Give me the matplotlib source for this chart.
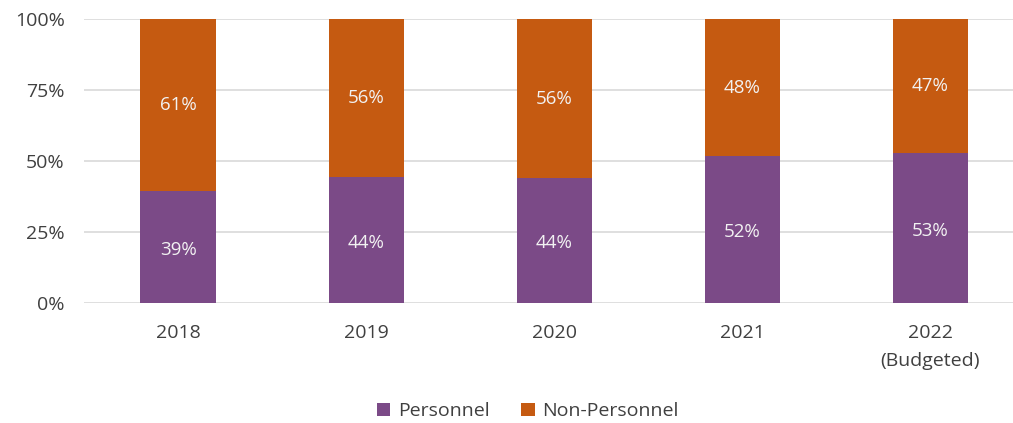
import matplotlib.pyplot as plt
import numpy as np

plt.rcParams['font.family'] = ['Open Sans', 'DejaVu Sans']

years = ['2018', '2019', '2020', '2021', '2022\n(Budgeted)']
personnel = [39.4, 44.4, 44.1, 51.9, 53.0]
non_personnel = [60.6, 55.6, 55.9, 48.1, 47.0]

purple = '#7B4A87'
orange = '#C55A11'

fig = plt.figure(figsize=(10.13, 4.23), dpi=100)
ax = fig.add_axes([0.083, 0.284, 0.917, 0.67])

x = np.arange(len(years))
w = 0.40
b1 = ax.bar(x, personnel, w, color=purple, label='Personnel', zorder=3)
b2 = ax.bar(x, non_personnel, w, bottom=personnel, color=orange, label='Non-Personnel', zorder=3)

for i in range(len(years)):
    ax.text(x[i], personnel[i] / 2 - 1, f'{round(personnel[i])}%', ha='center', va='center',
            color='#F2F2F2', fontsize=13.5, zorder=4)
    ax.text(x[i], personnel[i] + non_personnel[i] / 2, f'{round(non_personnel[i])}%',
            ha='center', va='center', color='#F2F2F2', fontsize=13.5, zorder=4)

ax.set_ylim(0, 100)
ax.set_xlim(-0.5, 4.44)
ax.set_yticks([0, 25, 50, 75, 100])
ax.set_yticklabels(['0%', '25%', '50%', '75%', '100%'], fontsize=14, color='#404040')
ax.set_xticks(x)
ax.set_xticklabels(years, fontsize=14, color='#404040', linespacing=1.75)
ax.tick_params(length=0)
ax.tick_params(axis='x', pad=15)
ax.tick_params(axis='y', pad=14)
ax.grid(axis='y', color='#D9D9D9', linewidth=1.2, zorder=0)
for s in ax.spines.values():
    s.set_visible(False)

fig.legend(handles=[b1, b2], loc='center', bbox_to_anchor=(0.521, 0.028), ncol=2,
           frameon=False, fontsize=14, handlelength=0.7, handleheight=0.7,
           columnspacing=1.6, handletextpad=0.4, labelcolor='#404040')

plt.savefig('out.png', dpi=100)
plt.close()
